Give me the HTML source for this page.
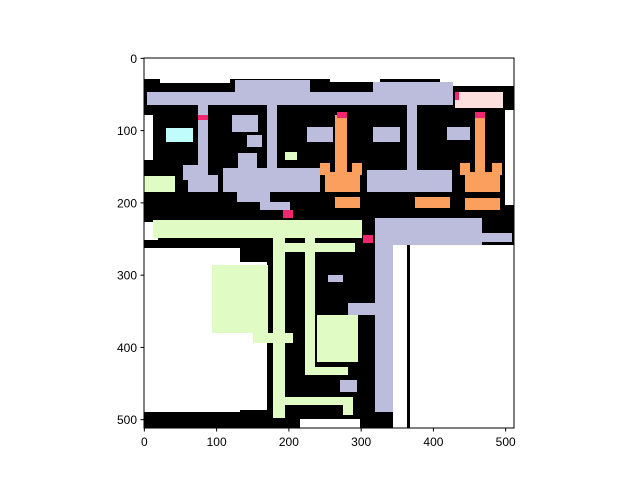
<!DOCTYPE html>
<html><head><meta charset="utf-8"><style>
html,body{margin:0;padding:0;background:#fff;}
svg{display:block;font-family:"Liberation Sans","DejaVu Sans",sans-serif;}
</style></head><body>
<svg id="chart" width="640" height="480" viewBox="0 0 640 480" xmlns="http://www.w3.org/2000/svg">
<rect x="0" y="0" width="640" height="480" fill="#fff"/>
<g id="img"></g>
<rect x="144" y="58" width="370" height="370" fill="none" stroke="#000" stroke-width="1"/>
<g id="ticks"></g>
</svg>
<script>
const xTicks=[0,100,200,300,400,500];
const yTicks=[0,100,200,300,400,500];
const X0=144,Y0=58,S=370/512;
const NS="http://www.w3.org/2000/svg";
const C={k:"#000",w:"#fff",l:"#bcbddc",o:"#fb9f5e",g:"#e0fcc4",c:"#c0fcfc",p:"#fde0dd",r:"#f0266e"};
// regions in pixel space [x1,y1,x2,y2,color]
const regions=[
[144,58,514,428,"k"],
[144,58,514,79,"w"],[160,79,230,83,"w"],[330,79,380,82,"w"],[440,79,514,86,"w"],
[144,115,153,160,"w"],[505,110,514,205,"w"],
[144,248,240,412,"w"],[240,262,267,410,"w"],[144,222,158,240,"w"],
[410,245,514,428,"w"],[393,245,407,428,"w"],[300,419,360,428,"w"],
[235,80,310,92,"l"],[373,82,453,92,"l"],[147,92,453,105,"l"],
[198,105,208,182,"l"],[267,105,277,182,"l"],[407,105,417,182,"l"],
[188,175,218,192,"l"],[183,165,198,180,"l"],
[223,168,320,192,"l"],[237,192,270,202,"l"],[260,202,290,210,"l"],
[367,170,452,192,"l"],
[232,115,258,132,"l"],[247,135,262,147,"l"],[238,153,257,172,"l"],
[307,127,333,142,"l"],[373,127,400,142,"l"],[447,127,470,140,"l"],
[375,218,482,245,"l"],[482,233,512,242,"l"],[375,245,393,412,"l"],
[348,303,377,315,"l"],[340,380,357,392,"l"],[328,275,343,282,"l"],
[335,115,347,182,"o"],[325,172,360,192,"o"],[320,163,330,175,"o"],[352,163,362,175,"o"],
[475,115,485,182,"o"],[465,172,500,192,"o"],[460,163,470,175,"o"],[492,163,502,175,"o"],
[335,197,360,208,"o"],[415,197,450,208,"o"],[465,198,500,210,"o"],
[166,128,193,142,"c"],[455,92,503,108,"p"],
[144,176,175,192,"g"],[285,152,297,160,"g"],
[153,220,362,238,"g"],[273,238,285,418,"g"],[305,238,315,375,"g"],
[273,243,355,252,"g"],[305,367,348,375,"g"],[285,397,353,405,"g"],[343,397,353,415,"g"],
[253,333,293,343,"g"],[212,265,268,333,"g"],[317,315,358,362,"g"],
[198,115,208,120,"r"],[337,112,347,118,"r"],[475,112,485,118,"r"],
[283,210,293,218,"r"],[363,235,373,243,"r"],[455,92,459,100,"r"]
];
const img=document.getElementById('img');
regions.forEach(r=>{
 const e=document.createElementNS(NS,'rect');
 e.setAttribute('x',r[0]);e.setAttribute('y',r[1]);
 e.setAttribute('width',r[2]-r[0]);e.setAttribute('height',r[3]-r[1]);
 e.setAttribute('fill',C[r[4]]);
 
 
 img.appendChild(e);
});
const tg=document.getElementById('ticks');
function xs(v){return X0+(v+0.5)*S;}
function ys(v){return Y0+(v+0.5)*S;}
xTicks.forEach(v=>{
 const l=document.createElementNS(NS,'line');
 l.setAttribute('x1',xs(v));l.setAttribute('x2',xs(v));l.setAttribute('y1',428);l.setAttribute('y2',431.5);l.setAttribute('stroke','#000');
 
 
 tg.appendChild(l);
 const t=document.createElementNS(NS,'text');
 t.setAttribute('x',xs(v));t.setAttribute('y',446);t.setAttribute('text-anchor','middle');t.setAttribute('font-size','12');
 t.textContent=v;
 
 
 tg.appendChild(t);
});
yTicks.forEach(v=>{
 const l=document.createElementNS(NS,'line');
 l.setAttribute('x1',140.5);l.setAttribute('x2',144);l.setAttribute('y1',ys(v));l.setAttribute('y2',ys(v));l.setAttribute('stroke','#000');
 
 
 tg.appendChild(l);
 const t=document.createElementNS(NS,'text');
 t.setAttribute('x',137);t.setAttribute('y',ys(v)+4.5);t.setAttribute('text-anchor','end');t.setAttribute('font-size','12');
 t.textContent=v;
 
 
 tg.appendChild(t);
});
</script>
</body></html>
